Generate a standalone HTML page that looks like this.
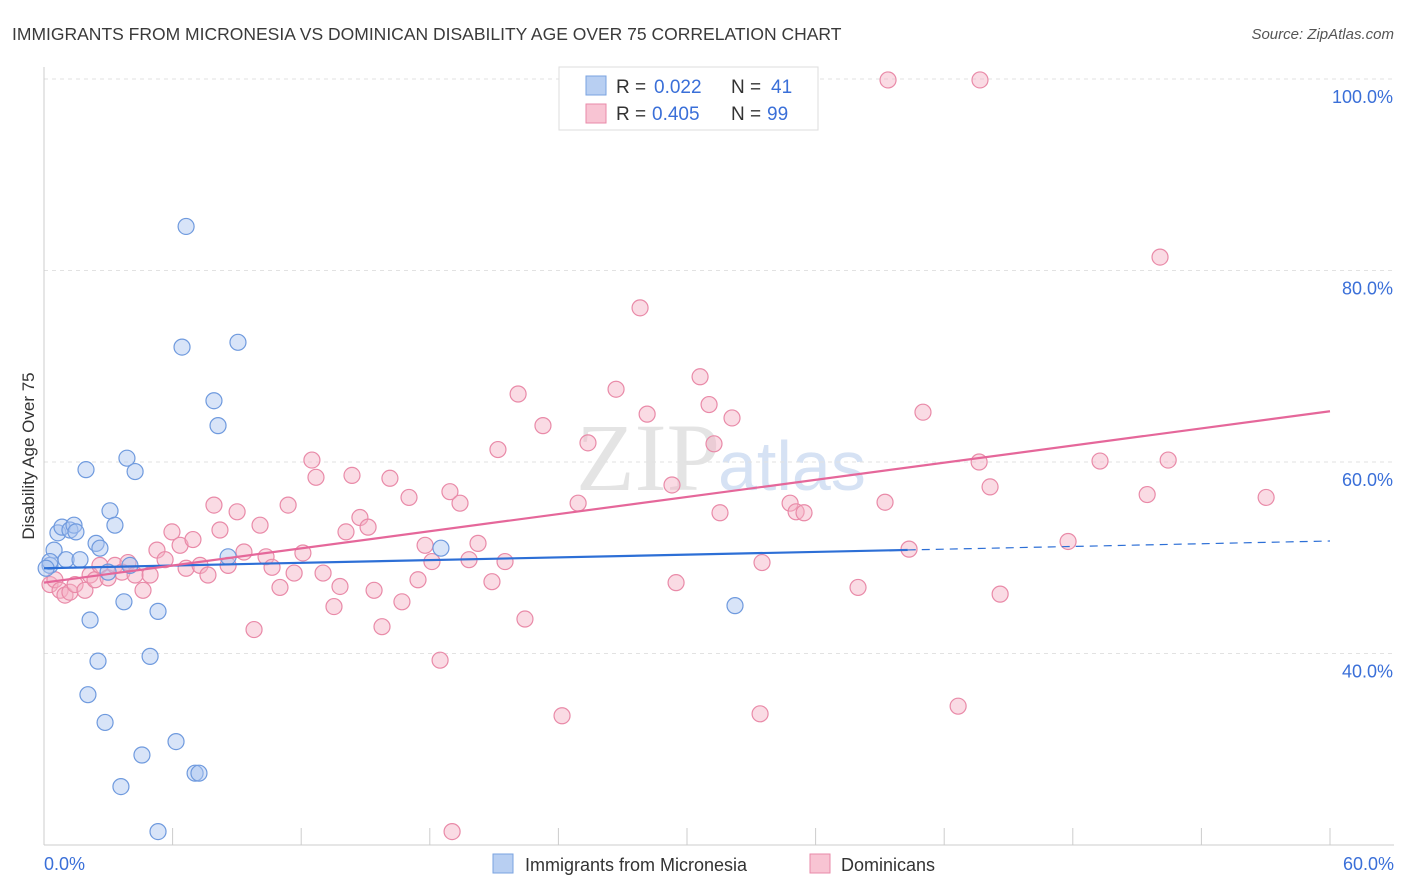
<!DOCTYPE html>
<html><head><meta charset="utf-8"><style>
body{margin:0;background:#fff;font-family:"Liberation Sans",sans-serif;}
#wrap{position:relative;width:1406px;height:892px;overflow:hidden;}
</style></head><body>
<div id="wrap">
<svg id="svg" width="1406" height="892" xmlns="http://www.w3.org/2000/svg">
<text x="12" y="40" font-size="17.5" fill="#3a3a3a">IMMIGRANTS FROM MICRONESIA VS DOMINICAN DISABILITY AGE OVER 75 CORRELATION CHART</text>
<text x="1394" y="39" font-size="15" fill="#555" text-anchor="end" font-style="italic">Source: ZipAtlas.com</text>
<text x="720" y="490" font-size="96" fill="#e4e4e4" text-anchor="end" font-family="Liberation Serif,serif">ZIP</text>
<text x="718" y="490" font-size="70" fill="#d6e2f4">atlas</text>
<g id="grid"></g><g id="axes"></g><g id="marks"></g><g id="trends"></g>
<text transform="translate(34,456) rotate(-90)" font-size="17" fill="#333" text-anchor="middle">Disability Age Over 75</text>
<text x="44" y="870" font-size="18" fill="#3a6fd8">0.0%</text>
<text x="1394" y="870" font-size="18" fill="#3a6fd8" text-anchor="end">60.0%</text>
<g>
<rect x="559" y="67" width="259" height="63" fill="#fff" stroke="#ddd"/>
<rect x="586" y="76" width="20" height="19" fill="#b8cff2" stroke="#7aa3e0"/>
<rect x="586" y="104" width="20" height="19" fill="#f8c4d3" stroke="#e98aa8"/>
<text x="616" y="93" font-size="19" fill="#333">R =</text>
<text x="654" y="93" font-size="19" fill="#3a6fd8">0.022</text>
<text x="731" y="93" font-size="19" fill="#333">N =</text>
<text x="771" y="93" font-size="19" fill="#3a6fd8">41</text>
<text x="616" y="120" font-size="19" fill="#333">R =</text>
<text x="652" y="120" font-size="19" fill="#3a6fd8">0.405</text>
<text x="731" y="120" font-size="19" fill="#333">N =</text>
<text x="767" y="120" font-size="19" fill="#3a6fd8">99</text>
</g>
<g>
<rect x="493" y="854" width="20" height="19" fill="#b8cff2" stroke="#7aa3e0"/>
<text x="525" y="871" font-size="18" fill="#333">Immigrants from Micronesia</text>
<rect x="810" y="854" width="20" height="19" fill="#f8c4d3" stroke="#e98aa8"/>
<text x="841" y="871" font-size="18" fill="#333">Dominicans</text>
</g>
</svg>
</div>
<script>
const yTicks=[40,60,80,100];
const yTickLabels=["40.0%","60.0%","80.0%","100.0%"];
const xTicks=[0,6,12,18,24,30,36,42,48,54,60];
const blueX=[0.28,0.47,0.65,0.84,1.03,1.21,1.40,1.49,1.68,1.96,2.15,2.05,2.43,2.52,2.61,2.85,2.99,3.08,3.31,3.73,3.87,4.01,4.25,4.57,4.95,5.32,3.59,5.32,6.16,6.44,6.63,7.05,7.23,7.93,8.12,8.59,9.05,18.52,32.24,0.28,0.1];
const blueY=[49.2,50.8,52.6,53.2,49.8,52.9,53.4,52.7,49.8,59.2,43.5,35.7,51.5,39.2,51.0,32.8,48.5,54.9,53.4,45.4,60.4,49.2,59.0,29.4,39.7,44.4,26.1,21.4,30.8,72.0,84.6,27.5,27.5,66.4,63.8,50.1,72.5,51.0,45.0,49.6,48.9];
const pinkX=[0.28,0.51,0.75,0.98,1.21,1.45,1.91,2.15,2.38,2.61,2.99,3.31,3.64,3.92,4.25,4.62,4.95,5.27,5.65,5.97,6.35,6.63,6.95,7.28,7.65,7.93,8.21,8.59,9.01,9.33,9.80,10.08,10.36,10.64,11.01,11.39,11.67,12.08,12.50,12.69,13.02,13.53,13.81,14.09,14.37,14.74,15.12,15.40,15.77,16.14,16.70,17.03,17.45,17.78,18.10,18.48,18.94,19.04,19.41,19.83,20.25,20.90,21.18,21.51,22.12,22.44,23.28,24.17,24.92,25.38,26.69,27.81,28.14,29.30,29.49,30.61,31.03,31.26,31.54,32.10,33.50,33.41,34.81,35.09,35.46,37.98,39.24,39.38,40.36,41.01,42.65,43.63,43.67,44.14,44.61,47.78,49.27,51.47,52.07,52.45,57.02];
const pinkY=[47.2,47.7,46.6,46.1,46.4,47.2,46.6,48.2,47.7,49.2,47.9,49.2,48.5,49.5,48.2,46.6,48.2,50.8,49.8,52.7,51.3,48.9,51.9,49.2,48.2,55.5,52.9,49.2,54.8,50.6,42.5,53.4,50.1,49.0,46.9,55.5,48.4,50.5,60.2,58.4,48.4,44.9,47.0,52.7,58.6,54.2,53.2,46.6,42.8,58.3,45.4,56.3,47.7,51.3,49.6,39.3,56.9,21.4,55.7,49.8,51.5,47.5,61.3,49.6,67.1,43.6,63.8,33.5,55.7,62.0,67.6,76.1,65.0,57.6,47.4,68.9,66.0,61.9,54.7,64.6,49.5,33.7,55.7,54.8,54.7,46.9,55.8,99.9,50.9,65.2,34.5,60.0,99.9,57.4,46.2,51.7,60.1,56.6,81.4,60.2,56.3];
const blueTrend=[48.9,51.75]; const blueSolidEnd=40.3;
const pinkTrend=[47.4,65.3];
const NS="http://www.w3.org/2000/svg";
const sx=v=>44+v/60*1286, sy=v=>79+(100-v)/20*191.5;
function mk(t,a,p){const e=document.createElementNS(NS,t);for(const k in a)e.setAttribute(k,a[k]);p.appendChild(e);return e;}
const grid=document.getElementById('grid'),axes=document.getElementById('axes'),marks=document.getElementById('marks'),trends=document.getElementById('trends');
yTicks.forEach((t,i)=>{
 const l=mk('line',{x1:44,x2:1394,y1:sy(t),y2:sy(t),stroke:'#e2e2e2','stroke-dasharray':'4,4'},grid);
 
 
 const tx=mk('text',{x:1393,y:sy(t)+24,'font-size':18,fill:'#3a6fd8','text-anchor':'end'},grid);
 tx.textContent=yTickLabels[i];
 
 
});
const ya=mk('line',{x1:44,x2:44,y1:67,y2:845,stroke:'#ccc'},axes);


const xa=mk('line',{x1:44,x2:1394,y1:845,y2:845,stroke:'#ccc'},axes);


xTicks.forEach(t=>{const l=mk('line',{x1:sx(t),x2:sx(t),y1:828,y2:845,stroke:'#ccc'},axes);
 
 });
function pts(X,Y,fill,stroke,name){X.forEach((x,i)=>{const c=mk('circle',{cx:sx(x),cy:sy(Y[i]),r:8,fill:fill,'fill-opacity':0.45,stroke:stroke,'stroke-width':1.2},marks);
 
 });}
pts(pinkX,pinkY,'#f4b0c4','#e98aa8','dominican-point');
pts(blueX,blueY,'#a9c4ef','#6f9ade','micronesia-point');
const yb=x=>blueTrend[0]+(blueTrend[1]-blueTrend[0])*x/60;
let l1=mk('line',{x1:sx(0),y1:sy(yb(0)),x2:sx(blueSolidEnd),y2:sy(yb(blueSolidEnd)),stroke:'#2d6fd6','stroke-width':2.2},trends);


let l2=mk('line',{x1:sx(blueSolidEnd),y1:sy(yb(blueSolidEnd)),x2:sx(60),y2:sy(yb(60)),stroke:'#2d6fd6','stroke-width':1.2,'stroke-dasharray':'8,6'},trends);


let l3=mk('line',{x1:sx(0),y1:sy(pinkTrend[0]),x2:sx(60),y2:sy(pinkTrend[1]),stroke:'#e5679a','stroke-width':2.2},trends);


</script>
</body></html>
